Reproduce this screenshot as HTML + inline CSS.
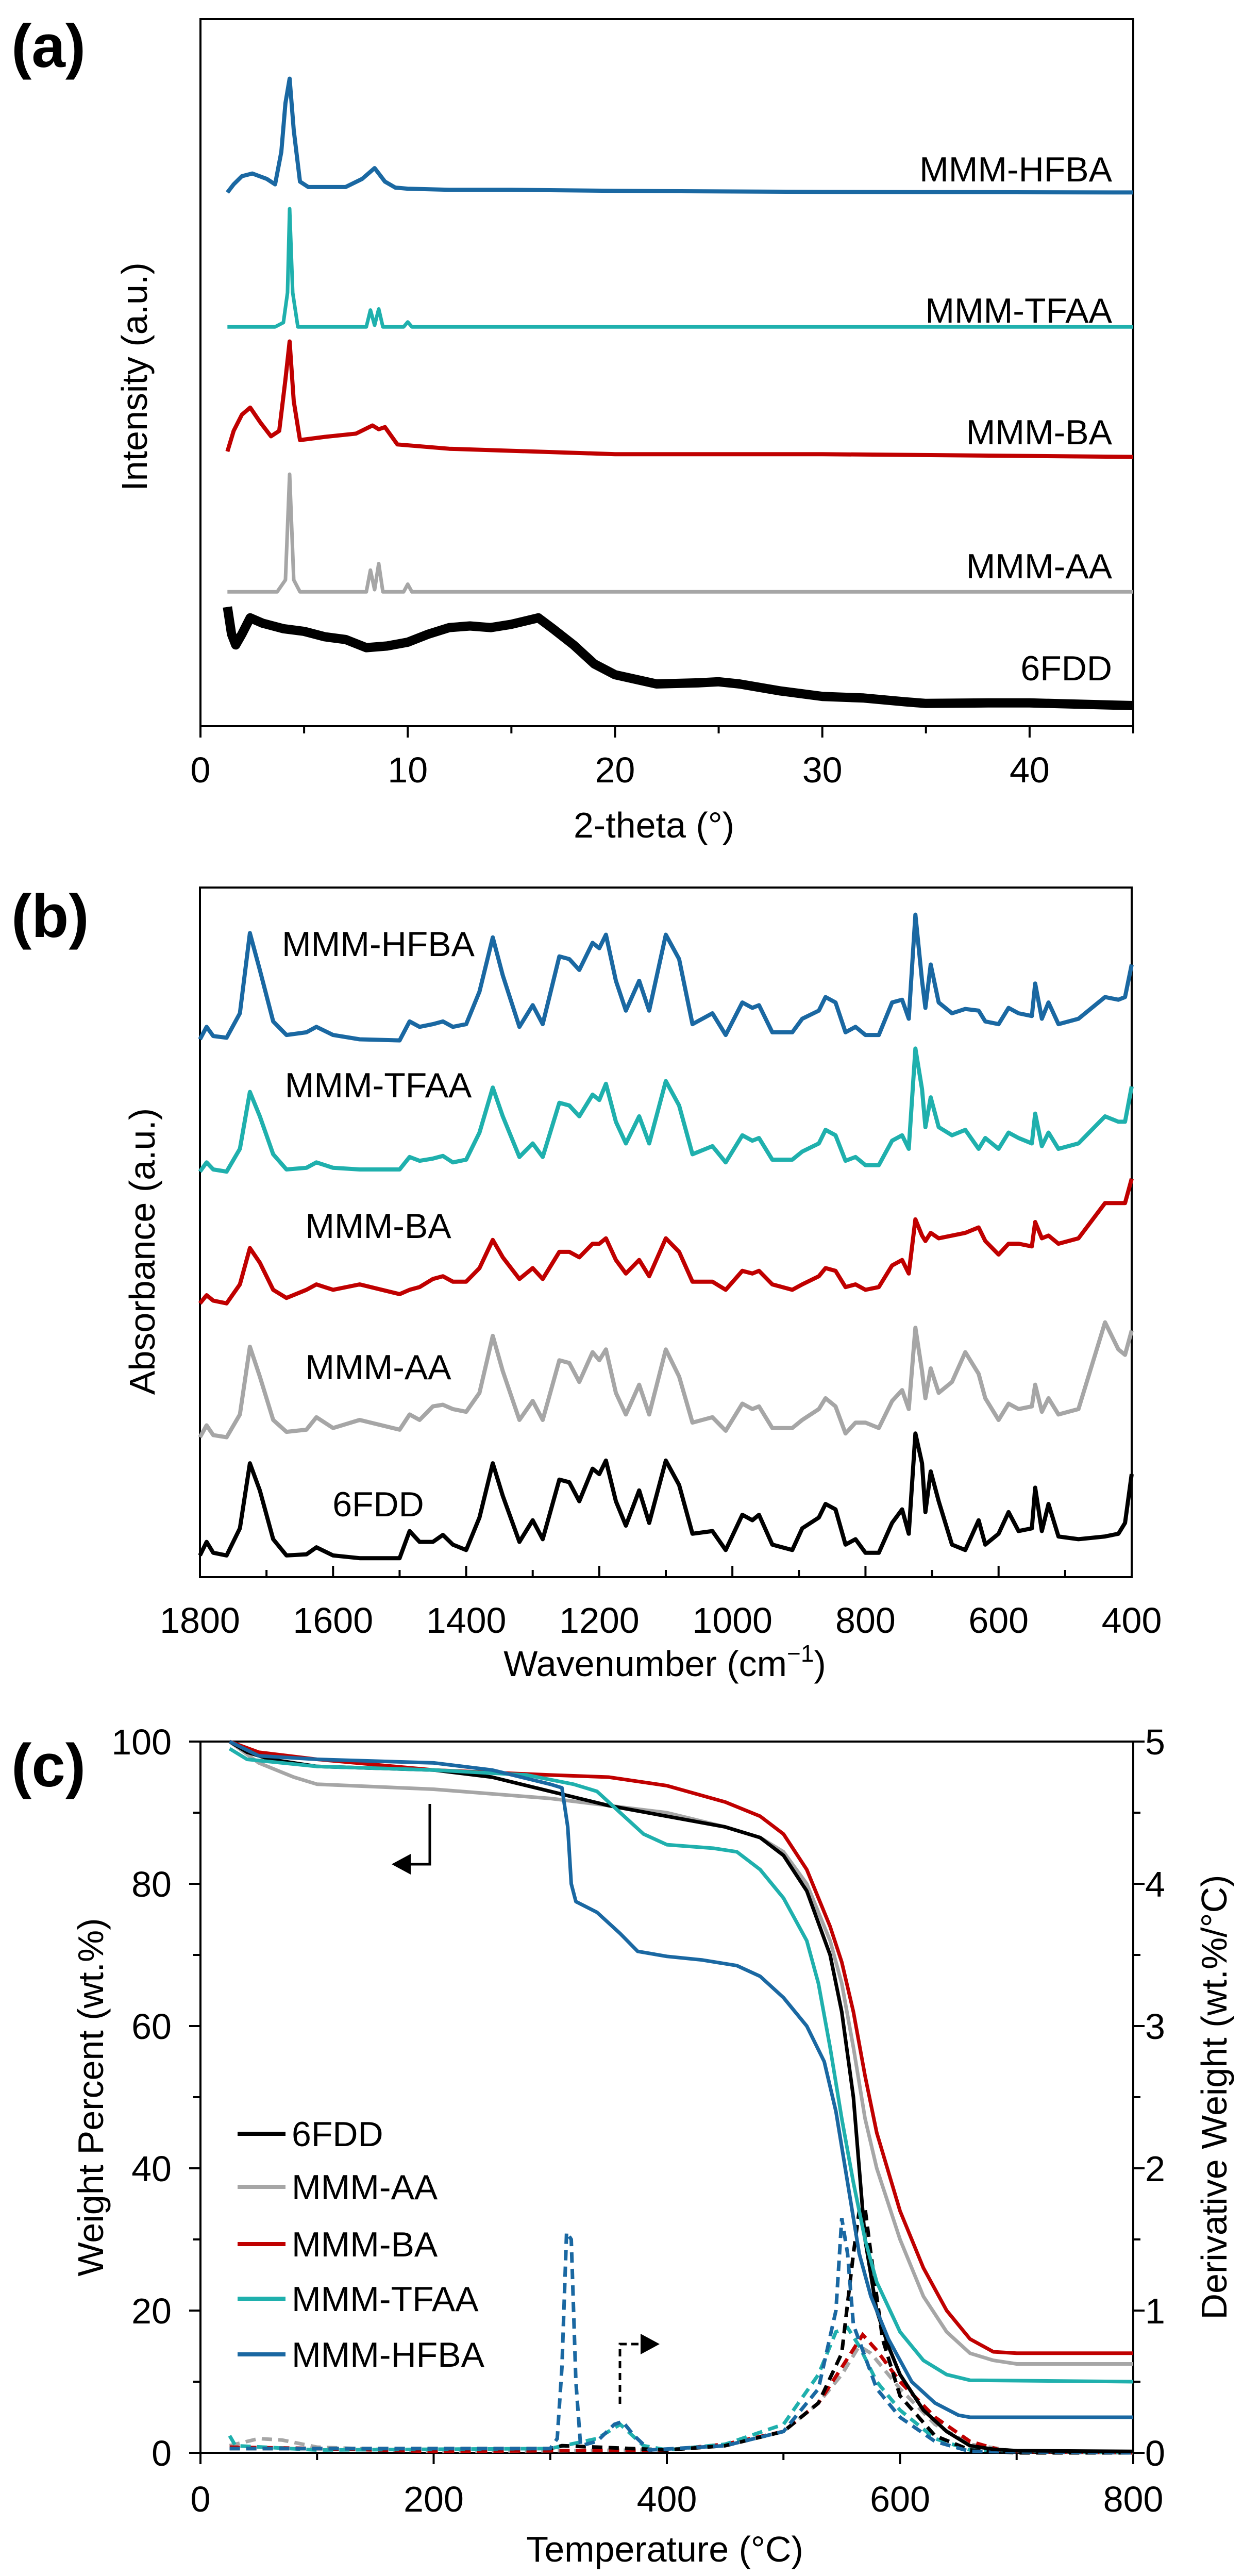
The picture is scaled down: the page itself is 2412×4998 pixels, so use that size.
<!DOCTYPE html>
<html><head><meta charset="utf-8"><style>
html,body{margin:0;padding:0;background:#fff}
svg{display:block;font-family:"Liberation Sans",Arial,sans-serif}
</style></head><body>
<svg id="fig" xmlns="http://www.w3.org/2000/svg" width="2412" height="4998" viewBox="0 0 2412 4998">
<rect width="2412" height="4998" fill="#fff"/>
<text x="22" y="130" font-size="118" font-weight="bold">(a)</text>
<text x="22" y="1818" font-size="118" font-weight="bold">(b)</text>
<text x="22" y="3466" font-size="118" font-weight="bold">(c)</text>
<g id="pa"></g>
<g id="pb"></g>
<g id="pc"></g>
</svg>
<script>
// ---------- Panel (a) XRD data ----------
const xrdHFBA_x=[1.3,1.6,2.0,2.5,3.2,3.6,3.9,4.1,4.3,4.5,4.8,5.2,7,7.8,8.4,8.9,9.4,10,12,15,20,30,45];
const xrdHFBA_y=[985,1000,1015,1020,1010,1000,1060,1150,1195,1100,1005,995,995,1010,1030,1005,994,992,990,990,988,986,985];
const xrdTFAA_x=[1.3,3.6,4.0,4.2,4.3,4.45,4.7,8.0,8.2,8.4,8.6,8.8,9.8,10,10.2,45];
const xrdTFAA_y=[737,737,745,800,955,800,737,737,768,740,770,737,737,746,737,737];
const xrdBA_x=[1.3,1.6,2.0,2.4,2.9,3.4,3.8,4.1,4.3,4.5,4.8,6,7.5,8.3,8.6,8.9,9.5,12,20,30,45];
const xrdBA_y=[507,545,575,588,560,535,545,640,710,600,528,534,540,555,548,552,520,512,502,502,497];
const xrdAA_x=[1.3,3.7,4.1,4.3,4.5,4.8,8.0,8.2,8.4,8.6,8.8,9.8,10,10.2,45];
const xrdAA_y=[248,248,270,465,270,248,248,288,252,300,248,248,262,248,248];
const xrd6FDD_x=[1.3,1.5,1.7,2.0,2.4,3,4,5,6,7,8,9,10,11,12,13,14,15,16.3,17,18,19,20,22,24,25,26,28,30,32,34,35,38,40,45];
const xrd6FDD_y=[220,170,150,170,200,190,180,175,165,160,145,148,155,170,182,185,182,188,200,180,150,115,95,78,80,82,78,65,55,52,45,42,43,43,38];
const xrdTicks=[0,10,20,30,40];

// ---------- Panel (b) FTIR data ----------
const wn=[1800,1790,1780,1760,1740,1725,1710,1690,1670,1640,1625,1600,1560,1500,1485,1470,1450,1435,1420,1400,1380,1360,1345,1320,1300,1285,1260,1245,1230,1210,1200,1190,1175,1160,1140,1125,1100,1080,1060,1030,1010,985,970,960,940,910,895,870,860,845,830,815,800,780,760,745,735,725,715,710,702,690,670,650,630,620,600,585,570,550,545,535,525,510,480,440,420,410,400];
const ir6FDD=[40,65,45,40,90,210,160,70,40,42,55,40,35,35,85,65,65,78,60,50,110,210,150,65,105,70,180,175,140,200,190,215,140,95,160,100,215,170,80,85,50,115,105,115,60,50,90,110,135,125,60,70,45,45,100,125,80,265,210,120,195,140,60,50,105,60,80,120,85,90,165,85,135,75,70,75,80,100,190];
const irAA=[258,280,262,258,300,425,370,290,268,272,295,275,290,272,300,290,315,318,310,305,340,445,380,290,325,290,400,395,360,415,400,420,340,300,355,300,420,370,285,295,270,320,310,315,275,275,290,310,330,315,265,285,285,275,325,345,310,460,380,330,385,340,360,415,375,330,290,320,310,315,355,305,330,300,310,470,420,410,455];
const irBA=[505,520,510,505,540,607,580,530,515,530,540,530,540,522,530,535,550,555,545,545,570,622,590,550,570,550,600,600,590,615,615,625,585,560,585,555,625,600,545,545,530,565,560,565,540,530,540,555,570,565,535,540,530,535,575,585,560,660,630,620,635,625,630,635,645,620,595,615,615,610,655,625,630,615,625,690,690,690,735];
const irTFAA=[748,765,752,748,790,895,850,780,752,755,765,755,752,752,775,768,772,777,765,770,820,903,850,775,800,775,875,870,850,890,880,910,840,800,850,800,915,870,780,795,765,815,805,810,770,770,785,800,825,815,768,775,760,760,805,815,790,975,900,830,885,830,815,825,790,810,790,820,810,800,855,795,820,790,800,850,840,840,905];
const irHFBA=[992,1015,998,995,1040,1188,1120,1025,1000,1005,1015,1000,992,990,1025,1015,1020,1025,1015,1020,1080,1180,1110,1015,1055,1020,1145,1140,1120,1170,1160,1185,1100,1045,1100,1045,1185,1140,1020,1040,1000,1060,1050,1055,1005,1005,1030,1045,1070,1060,1005,1015,1000,1000,1060,1065,1030,1222,1100,1050,1130,1060,1040,1048,1045,1025,1020,1050,1040,1035,1095,1030,1060,1020,1030,1070,1065,1070,1130];
const irTicks=[1800,1600,1400,1200,1000,800,600,400];

// ---------- Panel (c) TGA data ----------
const tga6FDD_t=[25,40,60,100,200,250,300,350,400,450,480,500,520,540,550,560,565,570,580,590,600,620,640,660,680,700,800];
const tga6FDD_w=[100,98.5,97.5,96.5,96,95,93,91,89.5,88,86.5,84,79,70,62,50,40,30,20,15,11,6,3,1,0.5,0.3,0.2];
const tgaAA_t=[25,50,80,100,200,300,350,400,450,480,500,520,540,550,560,570,580,600,620,640,660,680,700,800];
const tgaAA_w=[100,97,95,94,93.3,92,91,90,88,86.5,84.5,80,72,66,57,47,40,30,22,17,14,13,12.5,12.5];
const tgaBA_t=[25,50,100,200,300,350,400,450,480,500,520,540,550,560,570,580,600,620,640,660,680,700,800];
const tgaBA_w=[100,98.5,97.5,96,95.3,95,93.8,91.5,89.5,87,82,74,69,62,53,45,34,26,20,16,14.2,14,14];
const tgaTFAA_t=[25,40,100,200,280,320,340,360,380,400,440,460,480,500,520,530,540,550,560,570,580,600,620,640,660,800];
const tgaTFAA_w=[99,97.5,96.5,96,95.3,94,93,90,87,85.5,85,84.5,82,78,72,66,57,47,38,30,24,17,13,11,10.2,10];
const tgaHFBA_t=[25,50,100,200,250,300,310,315,318,322,340,360,375,400,430,460,480,500,520,535,545,555,565,575,590,610,630,650,660,800];
const tgaHFBA_w=[100,98,97.5,97,96,94,93.5,88,80,77.5,76,73,70.5,69.8,69.3,68.5,67,64,60,55,48,38,28,22,16,10,7,5.3,5,5];
const dtg6FDD_t=[25,300,310,400,450,500,530,550,560,565,570,575,585,600,630,660,700,800];
const dtg6FDD_v=[0.03,0.03,0.05,0.02,0.05,0.15,0.35,0.7,1.4,1.7,1.72,1.4,0.8,0.4,0.12,0.02,0,0];
const dtgAA_t=[25,50,70,100,200,400,450,500,530,550,565,575,600,630,660,700,800];
const dtgAA_v=[0.05,0.1,0.09,0.04,0.01,0.02,0.05,0.15,0.35,0.55,0.75,0.7,0.45,0.2,0.06,0.01,0];
const dtgBA_t=[25,100,200,400,450,500,530,550,568,580,600,630,660,690,800];
const dtgBA_v=[0.04,0.03,0.01,0.02,0.06,0.15,0.35,0.6,0.83,0.72,0.5,0.25,0.08,0.01,0];
const dtgTFAA_t=[25,30,100,300,340,360,380,400,450,500,530,545,555,565,580,600,630,660,800];
const dtgTFAA_v=[0.12,0.05,0.02,0.03,0.1,0.2,0.05,0.02,0.06,0.2,0.55,0.85,0.88,0.75,0.5,0.3,0.1,0.02,0];
const dtgHFBA_t=[25,300,306,310,314,318,322,326,340,355,362,372,385,450,500,530,545,550,555,560,580,600,630,660,800];
const dtgHFBA_v=[0.03,0.03,0.1,0.6,1.55,1.5,0.5,0.05,0.08,0.2,0.22,0.12,0.02,0.05,0.15,0.45,1.0,1.65,1.4,0.9,0.45,0.25,0.08,0.01,0];
const tgaXTicks=[0,200,400,600,800];
const tgaYTicks=[0,20,40,60,80,100];
const dtgTicks=[0,1,2,3,4,5];
const legendNames=["6FDD","MMM-AA","MMM-BA","MMM-TFAA","MMM-HFBA"];

const NS="http://www.w3.org/2000/svg";
const C={k:"#000",g:"#a6a6a6",r:"#c00000",t:"#1fb0ad",b:"#1a68a2"};
function mk(p,tag,at){const e=document.createElementNS(NS,tag);for(const k in at)e.setAttribute(k,at[k]);p.appendChild(e);return e;}
function lin(d0,d1,r0,r1){return v=>r0+(v-d0)/(d1-d0)*(r1-r0);}
function path(xs,ys,sx,sy){return xs.map((x,i)=>(i?"L":"M")+sx(x).toFixed(1)+","+sy(ys[i]).toFixed(1)).join("");}
function txt(p,x,y,s,fs,anchor,rot){const e=mk(p,"text",{x:x,y:y,"font-size":fs,"text-anchor":anchor||"start"});if(rot)e.setAttribute("transform","rotate("+rot+" "+x+" "+y+")");e.textContent=s;return e;}

// ===== Panel a =====
(function(){
 const g=document.getElementById("pa");
 const L=389,R=2199,T=37,B=1409;
 const sx=lin(0,45,L,R), sy=lin(0,1305,B,T);
 const ax=mk(g,"path",{d:`M${L},${T}H${R}V${B}H${L}Z`,fill:"none",stroke:"#000","stroke-width":4});
 
 
 for(let v=0;v<=45;v+=5){const t=mk(g,"line",{x1:sx(v),x2:sx(v),y1:B,y2:B+(v%10?14:22),stroke:"#000","stroke-width":4});
  
  }
 xrdTicks.forEach(v=>{const t=txt(g,sx(v),1518,v,70,"middle");
  
  });
 const xt=txt(g,1269,1625,"2-theta (°)",70,"middle");
 
 
 const yt=txt(g,285,731,"Intensity (a.u.)",70,"middle",-90);
 
 
 const S=[[xrd6FDD_x,xrd6FDD_y,C.k,"6FDD",1320,18],[xrdAA_x,xrdAA_y,C.g,"MMM-AA",1122,7],[xrdBA_x,xrdBA_y,C.r,"MMM-BA",862,8],[xrdTFAA_x,xrdTFAA_y,C.t,"MMM-TFAA",626,7],[xrdHFBA_x,xrdHFBA_y,C.b,"MMM-HFBA",352,8]];
 S.forEach(s=>{const p=mk(g,"path",{d:path(s[0],s[1],sx,sy),fill:"none",stroke:s[2],"stroke-width":s[5],"stroke-linejoin":"round"});
  
  
  const l=txt(g,2158,s[4],s[3],68,"end");
  
  });
})();

// ===== Panel b =====
(function(){
 const g=document.getElementById("pb");
 const L=388,R=2196,T=1722,B=3060;
 const sx=lin(1800,400,L,R), sy=lin(0,1272,B,T);
 const ax=mk(g,"path",{d:`M${L},${T}H${R}V${B}H${L}Z`,fill:"none",stroke:"#000","stroke-width":4});
 
 
 for(let v=1800;v>=400;v-=100){const t=mk(g,"line",{x1:sx(v),x2:sx(v),y1:B,y2:B-(v%200?14:22),stroke:"#000","stroke-width":4});
  
  }
 irTicks.forEach(v=>{const t=txt(g,sx(v),3168,v,70,"middle");
  
  });
 const xt=mk(g,"text",{x:1290,y:3252,"font-size":70,"text-anchor":"middle"});
 xt.innerHTML='Wavenumber (cm<tspan dy="-28" font-size="46">−1</tspan><tspan dy="28">)</tspan>';
 
 
 const yt=txt(g,300,2428,"Absorbance (a.u.)",70,"middle",-90);
 
 
 const S=[[ir6FDD,C.k,"6FDD",2942],[irAA,C.g,"MMM-AA",2676],[irBA,C.r,"MMM-BA",2402],[irTFAA,C.t,"MMM-TFAA",2129],[irHFBA,C.b,"MMM-HFBA",1855]];
 S.forEach(s=>{const p=mk(g,"path",{d:path(wn,s[0],sx,sy),fill:"none",stroke:s[1],"stroke-width":8,"stroke-linejoin":"round"});
  
  
  const l=txt(g,734,s[3],s[2],68,"middle");
  
  });
})();

// ===== Panel c =====
(function(){
 const g=document.getElementById("pc");
 const L=389,R=2199,T=3379,B=4759;
 const sx=lin(0,800,L,R), sy=lin(0,100,B,T), sy2=lin(0,5,B,T);
 const ax=mk(g,"path",{d:`M${L},${T}H${R}V${B}H${L}Z`,fill:"none",stroke:"#000","stroke-width":4});
 
 
 for(let v=0;v<=800;v+=100){const t=mk(g,"line",{x1:sx(v),x2:sx(v),y1:B,y2:B+(v%200?14:22),stroke:"#000","stroke-width":4});
  
  }
 for(let v=0;v<=100;v+=10){const t=mk(g,"line",{x1:L,x2:L-(v%20?14:22),y1:sy(v),y2:sy(v),stroke:"#000","stroke-width":4});
  
  }
 for(let v=0;v<=5;v+=0.5){const t=mk(g,"line",{x1:R,x2:R+(v%1?14:22),y1:sy2(v),y2:sy2(v),stroke:"#000","stroke-width":4});
  
  }
 tgaXTicks.forEach(v=>{const t=txt(g,sx(v),4873,v,70,"middle");
  
  });
 tgaYTicks.forEach(v=>{const t=txt(g,333,sy(v)+25,v,70,"end");
  
  });
 dtgTicks.forEach(v=>{const t=txt(g,2222,sy2(v)+25,v,70,"start");
  
  });
 const xt=txt(g,1290,4970,"Temperature (°C)",70,"middle");
 
 
 const yt=txt(g,200,4069,"Weight Percent (wt.%)",70,"middle",-90);
 
 
 const y2=txt(g,2380,4069,"Derivative Weight (wt.%/°C)",70,"middle",-90);
 
 
 const D=[[dtgAA_t,dtgAA_v,C.g,"mmm-aa"],[dtgBA_t,dtgBA_v,C.r,"mmm-ba"],[dtgTFAA_t,dtgTFAA_v,C.t,"mmm-tfaa"],[dtg6FDD_t,dtg6FDD_v,C.k,"6fdd"],[dtgHFBA_t,dtgHFBA_v,C.b,"mmm-hfba"]];
 D.forEach(s=>{const p=mk(g,"path",{d:path(s[0],s[1],sx,sy2),fill:"none",stroke:s[2],"stroke-width":7,"stroke-dasharray":"20 12"});
  
  });
 const W=[[tgaAA_t,tgaAA_w,C.g,"mmm-aa"],[tga6FDD_t,tga6FDD_w,C.k,"6fdd"],[tgaBA_t,tgaBA_w,C.r,"mmm-ba"],[tgaTFAA_t,tgaTFAA_w,C.t,"mmm-tfaa"],[tgaHFBA_t,tgaHFBA_w,C.b,"mmm-hfba"]];
 W.forEach(s=>{const p=mk(g,"path",{d:path(s[0],s[1],sx,sy),fill:"none",stroke:s[2],"stroke-width":7,"stroke-linejoin":"round"});
  
  });
 const lc=[C.k,C.g,C.r,C.t,C.b], ly=[4164,4267,4378,4484,4592];
 legendNames.forEach((n,i)=>{
  const l=mk(g,"line",{x1:461,x2:554,y1:ly[i]-24,y2:ly[i]-24,stroke:lc[i],"stroke-width":8});
  
  
  const t=txt(g,566,ly[i],n,68,"start");
  
  });
 const a1=mk(g,"path",{d:"M834,3500V3617H790",fill:"none",stroke:"#000","stroke-width":5});
 
 
 const h1=mk(g,"path",{d:"M760,3617L797,3597V3637Z",fill:"#000"});
 
 
 const a2=mk(g,"path",{d:"M1203,4664V4548H1245",fill:"none",stroke:"#000","stroke-width":5,"stroke-dasharray":"14 9"});
 
 
 const h2=mk(g,"path",{d:"M1280,4548L1243,4528V4568Z",fill:"#000"});
 
 
})();
</script>
</body></html>
